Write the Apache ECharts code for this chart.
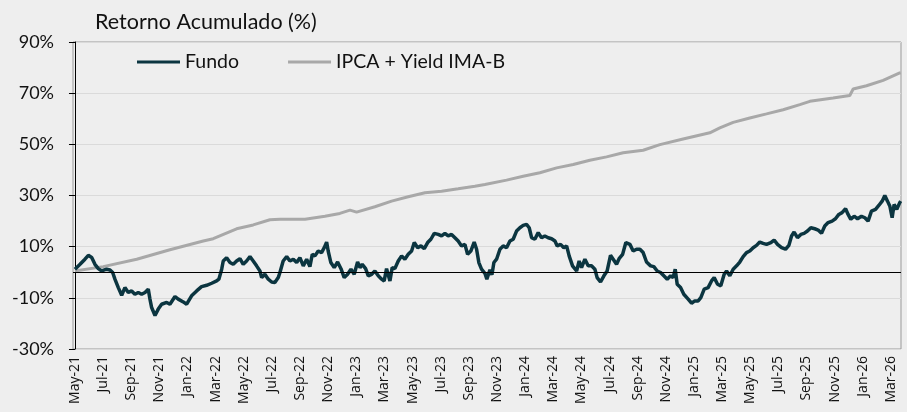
<!DOCTYPE html>
<html>
<head>
<meta charset="utf-8">
<title>Retorno Acumulado</title>
<script src="https://cdn.jsdelivr.net/npm/echarts@6.0.0/dist/echarts.min.js"></script>
<style>
  html, body { margin: 0; padding: 0; background: #eeeeee; }
  #chart { width: 907px; height: 412px; }
</style>
</head>
<body>
<div id="chart"></div>
<script>
// rótulos do eixo x (a cada 2 meses, a partir de mai/21)
const mesesLabels = ['May-21', 'Jul-21', 'Sep-21', 'Nov-21', 'Jan-22', 'Mar-22', 'May-22', 'Jul-22',
  'Sep-22', 'Nov-22', 'Jan-23', 'Mar-23', 'May-23', 'Jul-23', 'Sep-23', 'Nov-23', 'Jan-24', 'Mar-24',
  'May-24', 'Jul-24', 'Sep-24', 'Nov-24', 'Jan-25', 'Mar-25', 'May-25', 'Jul-25', 'Sep-25', 'Nov-25',
  'Jan-26', 'Mar-26'];

const yTicks = [-30, -10, 10, 30, 50, 70, 90];

// Fundo: meses desde mai/21 e retorno acumulado (%)
const fundoMes = [0, 0.36, 0.71, 0.95, 1.19, 1.42, 1.66, 1.90, 2.25, 2.49,
  2.68, 2.84, 3.08, 3.32, 3.55, 3.79, 4.03, 4.26, 4.50, 4.74,
  4.98, 5.21, 5.33, 5.45, 5.69, 5.92, 6.16, 6.52, 6.75, 7.11,
  7.34, 7.70, 7.94, 8.05, 8.29, 8.65, 9.00, 9.36, 9.72, 10.07,
  10.23, 10.43, 10.54, 10.78, 11.02, 11.25, 11.49, 11.73, 11.96, 12.20,
  12.44, 12.67, 12.91, 13.15, 13.27, 13.50, 13.74, 13.98, 14.21, 14.45,
  14.57, 14.80, 15.05, 15.28, 15.52, 15.76, 15.99, 16.23, 16.47, 16.70,
  16.87, 17.06, 17.29, 17.53, 17.72, 17.89, 18.00, 18.19, 18.43, 18.67,
  18.91, 19.14, 19.38, 19.62, 19.85, 20.09, 20.26, 20.42, 20.66, 20.85,
  21.09, 21.32, 21.56, 21.80, 21.98, 22.15, 22.39, 22.55, 22.74, 22.98,
  23.22, 23.45, 23.69, 23.93, 24.12, 24.36, 24.59, 24.83, 25.07, 25.30,
  25.54, 25.82, 26.06, 26.30, 26.53, 26.77, 27.01, 27.24, 27.48, 27.72,
  27.91, 28.14, 28.38, 28.55, 28.71, 28.90, 29.14, 29.28, 29.50, 29.64,
  29.78, 29.97, 30.21, 30.44, 30.68, 30.92, 31.15, 31.39, 31.63, 31.86,
  32.10, 32.29, 32.46, 32.69, 32.93, 33.17, 33.40, 33.64, 33.88, 34.12,
  34.28, 34.52, 34.75, 34.95, 35.13, 35.37, 35.66, 35.84, 36.01, 36.25,
  36.48, 36.72, 36.96, 37.12, 37.36, 37.60, 37.83, 38.07, 38.26, 38.50,
  38.68, 38.93, 39.16, 39.45, 39.68, 39.92, 40.16, 40.39, 40.63, 40.92,
  41.15, 41.39, 41.63, 41.86, 42.10, 42.34, 42.52, 42.67, 42.81, 43.05,
  43.28, 43.59, 43.83, 44.06, 44.30, 44.49, 44.73, 45.01, 45.25, 45.44,
  45.68, 45.91, 46.15, 46.32, 46.55, 46.79, 47.03, 47.26, 47.50, 47.74,
  47.97, 48.21, 48.45, 48.68, 48.92, 49.16, 49.47, 49.70, 49.94, 50.23,
  50.51, 50.75, 50.94, 51.12, 51.36, 51.60, 51.83, 52.07, 52.31, 52.59,
  52.83, 53.07, 53.30, 53.54, 53.82, 54.06, 54.30, 54.53, 54.78, 54.96,
  55.15, 55.39, 55.63, 55.91, 56.15, 56.38, 56.62, 56.91, 57.14, 57.38,
  57.57, 57.76, 57.93, 58.09, 58.23, 58.42, 58.63, 58.70];

const fundoRet = [1.2, 3.1, 5.1, 6.6, 5.8, 3.1, 1.4, 0.5, 1.2, 0.9,
  -0.1, -2.7, -6, -9, -6, -7.9, -7.3, -8.6, -7.9, -8.6,
  -7.9, -6.6, -10.5, -13.8, -16.9, -14.4, -12.5, -11.8, -12.5, -9.5,
  -10.5, -11.6, -12.5, -13.1, -9.2, -7.3, -5.6, -5.1, -4.3, -3.4,
  -2.7, 1.2, 4.4, 5.7, 3.8, 3.1, 4.4, 5.3, 3.1, 4.4,
  6.1, 4.4, 2.5, 0.5, -2.1, -0.8, -2.7, -3.8, -4.0, -2.1,
  -0.1, 4.4, 6.1, 4.4, 5.1, 3.8, 5.7, 2.5, 5.1, 2.2,
  7.0, 6.4, 8.3, 7.7, 9.6, 11.8, 8.3, 3.8, 1.8, 4.0,
  1.4, -2.1, -0.8, 1.2, -0.8, 4.0, 1.8, 3.1, 1.4, -1.4,
  -0.8, 0.5, -1.4, -2.7, -3.4, 1.4, -3.4, 1.8, 1.4, 4.4,
  6.4, 5.1, 7.0, 8.3, 11.6, 9.6, 10.3, 9.2, 11.6, 12.9,
  15.2, 14.8, 14.2, 15.2, 14.2, 14.8, 13.5, 12.2, 10.3, 10.9,
  7.0, 8.3, 11.8, 9.0, 3.8, 1.2, -0.4, -2.7, 1.0, -1.0,
  3.8, 5.1, 9.0, 10.3, 9.6, 12.2, 12.9, 16.1, 17.4, 18.3,
  18.7, 17.4, 13.5, 12.9, 15.5, 13.5, 14.2, 13.5, 13.1, 12.2,
  10.3, 10.9, 9.6, 10.3, 6.4, 2.5, 0.5, 4.4, 1.8, 5.1,
  2.5, 2.5, 1.2, -2.1, -3.8, -1.4, 0.5, 6.6, 5.1, 3.1,
  5.3, 7.0, 11.6, 10.9, 8.3, 9.0, 9.0, 7.7, 4.0, 2.5,
  2.2, 0.5, -0.1, -1.4, -2.7, -1.4, -2.1, 1.2, -4.7, -6.0,
  -8.6, -10.5, -12.1, -11.2, -11.2, -9.9, -6.6, -6.0, -3.4, -2.1,
  -4.7, -5.3, -0.8, 0.5, -1.4, 1.2, 2.5, 4.0, 6.1, 7.7,
  8.3, 9.6, 10.5, 11.8, 11.3, 10.9, 11.6, 12.6, 10.9, 9.6,
  9.0, 10.5, 14.2, 15.7, 13.5, 14.8, 15.2, 16.1, 17.4, 17.0,
  16.5, 15.2, 18.1, 19.4, 20.0, 20.9, 22.6, 23.3, 24.8, 22.6,
  20.7, 21.9, 20.9, 21.9, 21.3, 20.0, 23.9, 24.6, 26.1, 27.8,
  30.0, 27.8, 25.8, 21.3, 26.5, 24.6, 27.2, 27.8];

// IPCA + Yield IMA-B
const ipcaMes = [0, 2.01, 4.39, 6.75, 9.12, 9.83, 11.49, 12.67, 13.86, 14.57,
  16.35, 17.77, 18.83, 19.55, 20.02, 21.32, 22.51, 23.69, 24.88, 26.06,
  27.24, 28.43, 29.14, 30.68, 31.86, 33.05, 34.24, 35.42, 36.60, 37.79,
  38.97, 40.39, 41.58, 43.23, 45.13, 45.84, 46.79, 47.97, 49.16, 50.34,
  51.53, 52.24, 53.89, 55.08, 55.22, 55.32, 56.27, 57.45, 58.63, 58.70];

const ipcaRet = [0.5, 2.2, 5.1, 8.8, 12.2, 13.1, 17.0, 18.5, 20.5, 20.7,
  20.7, 21.9, 23.0, 24.3, 23.5, 25.6, 27.8, 29.5, 31.1, 31.7,
  32.6, 33.6, 34.3, 36.0, 37.5, 38.9, 40.8, 42.1, 43.8, 45.1,
  46.7, 47.7, 49.9, 52.1, 54.5, 56.4, 58.6, 60.3, 61.9, 63.5,
  65.5, 66.8, 68.1, 69.1, 69.3, 71.6, 72.9, 75.0, 77.9, 78.0];

const chart = echarts.init(document.getElementById('chart'));

const fontMain = 'Lato, "Open Sans", sans-serif';

const option = {
  backgroundColor: '#eeeeee',
  animation: false,
  title: {
    text: 'Retorno Acumulado (%)',
    left: 90,
    top: 6,
    textStyle: { fontFamily: fontMain, fontSize: 21.5, fontWeight: 'normal', color: '#111' }
  },
  legend: {
    left: 132,
    top: 47,
    icon: 'rect',
    itemWidth: 43,
    itemHeight: 3,
    itemGap: 49,
    textStyle: { fontFamily: fontMain, fontSize: 19.5, color: '#111' },
    data: ['Fundo', 'IPCA + Yield IMA-B']
  },
  grid: {
    left: 73, right: 6, top: 42, bottom: 63,
    show: true, borderColor: '#9a9a9a', borderWidth: 1
  },
  xAxis: {
    type: 'value',
    min: -0.14,
    max: 58.72,
    axisLine: { show: false },
    axisTick: { show: false },
    splitLine: { show: false },
    axisLabel: {
      rotate: 90,
      margin: 7,
      fontFamily: '"Open Sans", sans-serif',
      fontSize: 14,
      color: '#111',
      customValues: mesesLabels.map((_, i) => i * 2),
      formatter: (v) => mesesLabels[Math.round(v / 2)] || ''
    }
  },
  yAxis: {
    type: 'value',
    min: -30,
    max: 90,
    interval: 20,
    axisLine: { show: true, lineStyle: { color: '#000', width: 1 } },
    axisTick: { show: true, length: 6, lineStyle: { color: '#000' } },
    splitLine: { show: true, lineStyle: { color: '#dadada', width: 1 } },
    axisLabel: {
      margin: 19,
      fontFamily: fontMain,
      fontSize: 18,
      color: '#111',
      customValues: yTicks,
      formatter: (v) => v + '%'
    }
  },
  series: [
    {
      name: 'Fundo',
      type: 'line',
      data: fundoMes.map((m, i) => [m, fundoRet[i]]),
      showSymbol: false,
      symbol: 'none',
      z: 4,
      lineStyle: { color: '#0b3540', width: 3.5 },
      itemStyle: { color: '#0b3540' },
      markLine: {
        silent: true,
        symbol: ['none', 'none'],
        label: { show: false },
        lineStyle: { color: '#000', width: 1, type: 'solid' },
        data: [{ yAxis: 0 }]
      }
    },
    {
      name: 'IPCA + Yield IMA-B',
      type: 'line',
      data: ipcaMes.map((m, i) => [m, ipcaRet[i]]),
      showSymbol: false,
      symbol: 'none',
      z: 3,
      lineStyle: { color: '#a8a8a8', width: 3 },
      itemStyle: { color: '#a8a8a8' }
    }
  ]
};

chart.setOption(option);
</script>
</body>
</html>
